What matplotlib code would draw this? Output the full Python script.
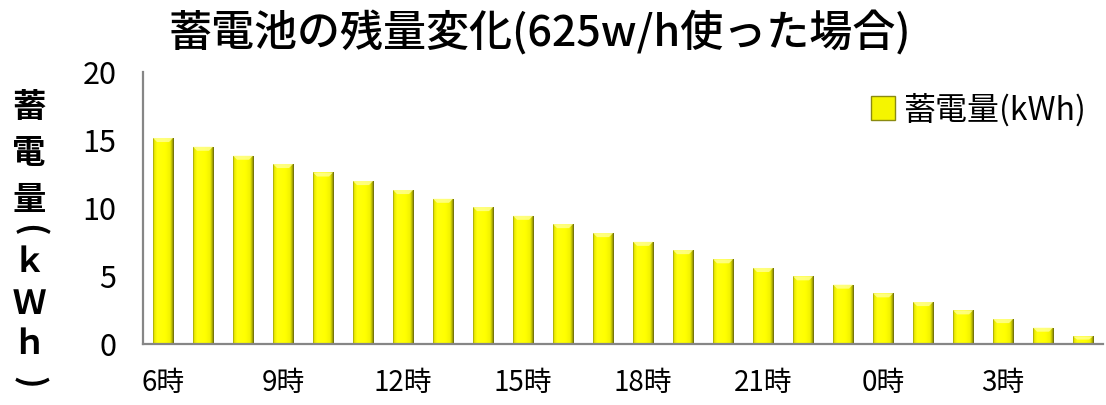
import matplotlib
matplotlib.use('Agg')
import matplotlib.pyplot as plt
import numpy as np
from matplotlib.patches import Patch, Polygon

plt.rcParams['font.family'] = ['Noto Sans CJK JP', 'DejaVu Sans']

# hourly battery level, 6時 through 5時
hours = ['6時', '7時', '8時', '9時', '10時', '11時', '12時', '13時', '14時', '15時',
         '16時', '17時', '18時', '19時', '20時', '21時', '22時', '23時', '0時', '1時',
         '2時', '3時', '4時', '5時']
storage = [15.16, 14.52, 13.86, 13.25, 12.63, 12.0, 11.34, 10.7, 10.09, 9.45,
           8.84, 8.18, 7.54, 6.93, 6.26, 5.62, 5.01, 4.40, 3.76, 3.12,
           2.51, 1.87, 1.24, 0.60]
shown_ticks = ['6時', '9時', '12時', '15時', '18時', '21時', '0時', '3時']
yticks = [0, 5, 10, 15, 20]

title = '蓄電池の残量変化(625w/h使った場合)'
series_name = '蓄電量(kWh)'
ylabel_chars = ['蓄', '電', '量', '(', 'ｋ', 'Ｗ', 'ｈ', ')']

fig = plt.figure(figsize=(11.06, 4.05), dpi=100)
ax = fig.add_axes([0.1293, 0.1494, 0.868, 0.6728])

x = np.arange(len(hours))
bars = ax.bar(x, storage, width=0.5, color='#ffff00', edgecolor='#8a8a10', linewidth=0.6, zorder=2)

# horizontal shading across each bar to give it a rounded look
pos = [0.0, 0.06, 0.2, 0.6, 0.82, 0.92, 1.0]
rgb = np.array([[0.62, 0.62, 0.05], [0.92, 0.92, 0.0], [1.0, 1.0, 0.05],
                [1.0, 1.0, 0.0], [0.95, 0.95, 0.0], [0.7, 0.7, 0.02], [0.4, 0.4, 0.05]])
cols = np.linspace(0, 1, 64)
grad = np.stack([np.interp(cols, pos, rgb[:, i]) for i in range(3)], axis=-1)[None, :, :]

for b in bars:
    x0, w, h = b.get_x(), b.get_width(), b.get_height()
    im = ax.imshow(grad, extent=[x0, x0 + w, 0, h], aspect='auto', zorder=3)
    im.set_clip_path(b)
    bev = min(0.3, h * 0.4)
    top = Polygon([[x0, h], [x0 + w, h], [x0 + w * 0.8, h - bev], [x0 + w * 0.2, h - bev]],
                  closed=True, facecolor='#ffff9a', edgecolor='none', alpha=0.8, zorder=4)
    ax.add_patch(top)

ax.set_xlim(-0.5, len(hours) - 0.5)
ax.set_ylim(0, 20)
ax.set_yticks(yticks)
ax.set_xticks([hours.index(t) for t in shown_ticks])
ax.set_xticklabels(shown_ticks)
ax.tick_params(axis='y', length=0, pad=19, labelsize=22)
ax.tick_params(axis='x', length=0, pad=17, labelsize=20)

for s in ['top', 'right']:
    ax.spines[s].set_visible(False)
for s in ['left', 'bottom']:
    ax.spines[s].set_color('#868686')
    ax.spines[s].set_linewidth(1.6)
    ax.spines[s].set_zorder(5)

ax.legend(handles=[Patch(facecolor='#f5f500', edgecolor='#8a8a10', linewidth=1)],
          labels=[series_name], loc='upper right', bbox_to_anchor=(0.995, 0.97),
          frameon=False, fontsize=23, handlelength=0.75, handleheight=0.75,
          handletextpad=0.25, borderaxespad=0)

fig.text(0.488, 0.918, title, ha='center', va='center', fontsize=31, fontweight='medium')

# stacked vertical axis title, brackets turned for vertical writing
label_y = [108, 154, 200, 230, 262, 305, 345, 382]
for ch, py in zip(ylabel_chars, label_y):
    rot = -90 if ch in '()' else 0
    fig.text(29 / 1106, 1 - py / 405, ch, ha='center', va='center', fontsize=24,
             fontweight='bold', rotation=rot)

fig.savefig('out.png', dpi=100)
